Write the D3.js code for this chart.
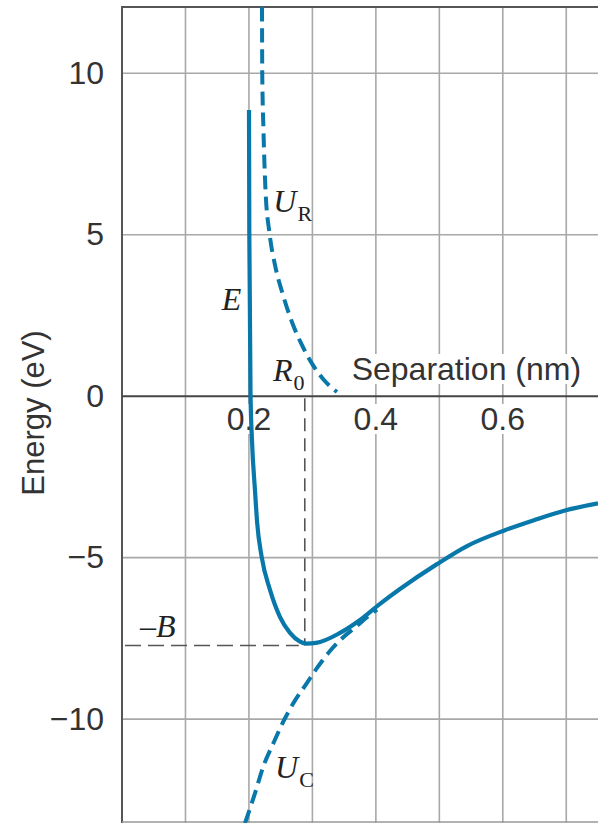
<!DOCTYPE html>
<html>
<head>
<meta charset="utf-8">
<script src="https://cdn.jsdelivr.net/npm/d3@7"></script>
<style>
  body { margin: 0; background: #fff; }
  svg { display: block; }
</style>
</head>
<body>
<div id="chart"></div>
<script>
// values (separation in nm, energy in eV)
var xGrid = [0.1, 0.2, 0.3, 0.4, 0.5, 0.6, 0.7];
var xLabels = [0.2, 0.4, 0.6];
var yTicks = [10, 5, 0, -5, -10];

var eCurve = [
  [0.2001, 8.86], [0.2006, 5.02], [0.2025, 0.07], [0.2048, -1.36],
  [0.2095, -2.91], [0.2130, -3.93], [0.2201, -4.98], [0.2332, -6.00],
  [0.2490, -6.84], [0.2647, -7.33], [0.2805, -7.60], [0.2910, -7.66],
  [0.3057, -7.64], [0.3435, -7.33], [0.3750, -6.93], [0.4065, -6.43],
  [0.4380, -5.97], [0.4963, -5.20], [0.5436, -4.64], [0.6034, -4.15],
  [0.6491, -3.84], [0.6980, -3.54], [0.7500, -3.32]
];

var uR = [
  [0.2206, 12.04], [0.2210, 9.97], [0.2229, 8.24], [0.2261, 6.38],
  [0.2324, 5.05], [0.2411, 4.06], [0.2537, 3.13], [0.2679, 2.29],
  [0.2836, 1.58], [0.3009, 0.96], [0.3182, 0.50], [0.3387, 0.13]
];

var uC = [
  [0.1938, -13.22], [0.2095, -12.30], [0.2226, -11.47], [0.2384, -10.75],
  [0.2541, -10.08], [0.2699, -9.51], [0.2910, -8.89], [0.3068, -8.43],
  [0.3277, -7.89], [0.3482, -7.47], [0.3698, -7.12], [0.3855, -6.85],
  [0.4018, -6.61]
];

var R0 = 0.288;   // equilibrium separation
var B = 7.72;     // binding energy

var w = 598, h = 823;
var blue = "#0877aa";
var textCol = "#333";

var svg = d3.select("#chart").append("svg")
  .attr("width", w)
  .attr("height", h);

var x = d3.scaleLinear().domain([0, 0.75]).range([122, 598]);
var y = d3.scaleLinear().domain([-13.2, 12.05]).range([822.5, 7]);

// grid
svg.append("g").selectAll("line")
  .data(xGrid).enter().append("line")
  .attr("x1", function(d) { return x(d); })
  .attr("x2", function(d) { return x(d); })
  .attr("y1", y(12.05)).attr("y2", h)
  .attr("stroke", "#a8a8a8").attr("stroke-width", 1.6);

svg.append("g").selectAll("line")
  .data(yTicks.filter(function(d) { return d !== 0; })).enter().append("line")
  .attr("x1", x(0)).attr("x2", w)
  .attr("y1", function(d) { return y(d); })
  .attr("y2", function(d) { return y(d); })
  .attr("stroke", "#a8a8a8").attr("stroke-width", 1.6);

// frame + zero axis
svg.append("line").attr("x1", x(0)).attr("x2", w).attr("y1", y(12.05)).attr("y2", y(12.05))
  .attr("stroke", "#555").attr("stroke-width", 2);
svg.append("line").attr("x1", x(0)).attr("x2", x(0)).attr("y1", y(12.05) - 1).attr("y2", h)
  .attr("stroke", "#555").attr("stroke-width", 2);
svg.append("line").attr("x1", x(0)).attr("x2", w).attr("y1", h - 1).attr("y2", h - 1)
  .attr("stroke", "#999").attr("stroke-width", 1.5);
svg.append("line").attr("x1", x(0)).attr("x2", w).attr("y1", y(0)).attr("y2", y(0))
  .attr("stroke", "#444").attr("stroke-width", 2);

// y axis labels
var yAxis = d3.axisLeft(y)
  .tickValues(yTicks)
  .tickSize(0)
  .tickPadding(18)
  .tickFormat(function(d) { return d < 0 ? "\u2212" + Math.abs(d) : d; });

var gy = svg.append("g").attr("transform", "translate(" + x(0) + ",0)").call(yAxis);
gy.select(".domain").remove();
gy.selectAll("text")
  .attr("font-family", "Liberation Sans, Arial, sans-serif")
  .attr("font-size", 32)
  .attr("fill", textCol);

svg.append("text")
  .attr("transform", "translate(44,413) rotate(-90)")
  .attr("text-anchor", "middle")
  .attr("font-family", "Liberation Sans, Arial, sans-serif")
  .attr("font-size", 31)
  .attr("fill", textCol)
  .text("Energy (eV)");

// knocked-out labels along the zero axis
function knockout(sel) {
  sel.each(function() {
    var bb = this.getBBox();
    d3.select(this.parentNode).insert("rect", ":first-child")
      .attr("x", bb.x - 2).attr("y", bb.y + 3)
      .attr("width", bb.width + 4).attr("height", bb.height - 6)
      .attr("fill", "#fff");
  });
}

var gx = svg.append("g");
gx.selectAll("text")
  .data(xLabels).enter().append("text")
  .attr("x", function(d) { return x(d); })
  .attr("y", 430)
  .attr("text-anchor", "middle")
  .attr("font-family", "Liberation Sans, Arial, sans-serif")
  .attr("font-size", 32)
  .attr("fill", textCol)
  .text(function(d) { return d.toFixed(1); });
knockout(gx.selectAll("text"));

var gs = svg.append("g");
gs.append("text")
  .attr("x", x(0.3619))
  .attr("y", y(0.5))
  .attr("font-family", "Liberation Sans, Arial, sans-serif")
  .attr("font-size", 32)
  .attr("fill", textCol)
  .text("Separation (nm)");
knockout(gs.selectAll("text"));

// R0 and -B guides
svg.append("line")
  .attr("x1", x(R0)).attr("x2", x(R0))
  .attr("y1", y(0) + 2).attr("y2", y(-B))
  .attr("stroke", "#555").attr("stroke-width", 1.6)
  .attr("stroke-dasharray", "13,7");
svg.append("line")
  .attr("x1", x(0) + 3).attr("x2", x(R0) - 6)
  .attr("y1", y(-B)).attr("y2", y(-B))
  .attr("stroke", "#555").attr("stroke-width", 1.6)
  .attr("stroke-dasharray", "16,7");

// curves
var line = d3.line()
  .x(function(d) { return x(d[0]); })
  .y(function(d) { return y(d[1]); })
  .curve(d3.curveMonotoneX);

svg.append("clipPath").attr("id", "plot")
  .append("rect").attr("x", x(0)).attr("y", y(12.05)).attr("width", w - x(0)).attr("height", h - y(12.05));

svg.append("path").datum(uR)
  .attr("d", line)
  .attr("fill", "none").attr("stroke", blue).attr("stroke-width", 4)
  .attr("stroke-dasharray", "14,7")
  .attr("clip-path", "url(#plot)");

svg.append("path").datum(uC)
  .attr("d", line)
  .attr("fill", "none").attr("stroke", blue).attr("stroke-width", 4)
  .attr("stroke-dasharray", "14,7")
  .attr("clip-path", "url(#plot)");

svg.append("path").datum(eCurve)
  .attr("d", line)
  .attr("fill", "none").attr("stroke", blue).attr("stroke-width", 4.2)
  .attr("clip-path", "url(#plot)");

// curve labels
function label(px, py, main, sub) {
  var t = svg.append("text")
    .attr("x", x(px)).attr("y", y(py))
    .attr("font-family", "Liberation Serif, Times New Roman, serif")
    .attr("font-size", 32)
    .attr("fill", "#222");
  t.append("tspan").attr("font-style", "italic").text(main);
  if (sub) {
    t.append("tspan").attr("font-size", 22).attr("dy", 9).attr("dx", 1).text(sub);
  }
}

label(0.157, 2.67, "E");
label(0.2384, 5.71, "U", "R");
label(0.2379, 0.47, "R", "0");
label(0.0284, -7.46, "\u2013B");
label(0.2411, -11.82, "U", "C");
</script>
</body>
</html>
